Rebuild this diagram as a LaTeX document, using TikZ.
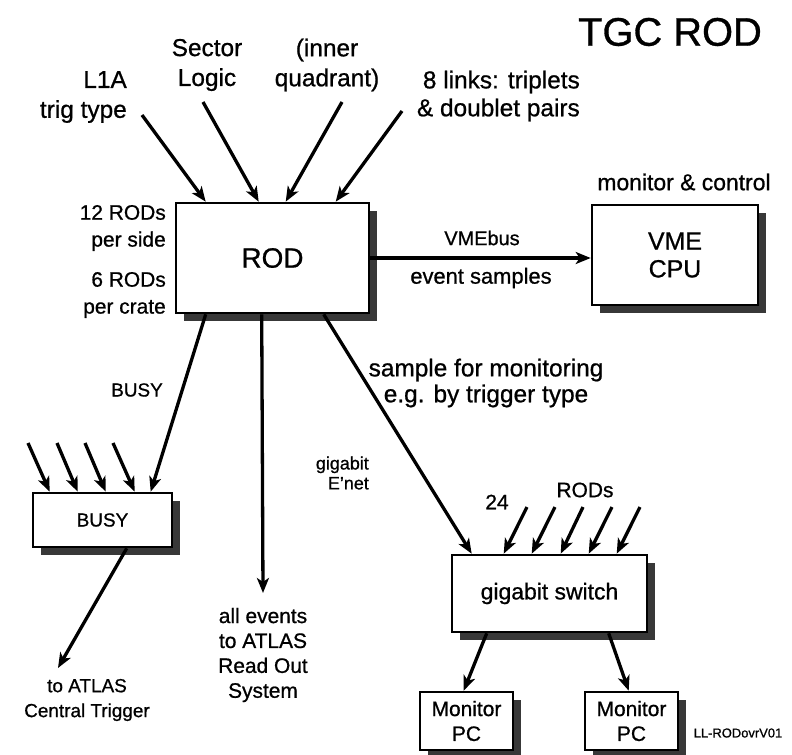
\documentclass[tikz,border=0pt]{standalone}
\usepackage{fontspec}
\setmainfont{Liberation Sans}[FakeBold=0.8]
\usetikzlibrary{arrows.meta,shadows,calc}
\newcommand\fz[2]{\fontsize{#1}{#2}\selectfont}
\begin{document}
\begin{tikzpicture}[x=1bp,y=-1bp,
  box/.style={draw, line width=2.6bp, fill=white, inner sep=0pt, align=center,
    general shadow={fill=black!78, shadow xshift=8bp, shadow yshift=-8bp}},
  arr/.style={line width=3.3bp, -{Stealth[length=15bp,width=12bp,inset=4bp]}},
  lab/.style={inner sep=0pt, align=center}]
\useasboundingbox (0,0) rectangle (792,755);

% boxes
\node[box, minimum width=193bp, minimum height=110bp, font=\fz{28}{30}] (rod) at (272.5,258) {ROD};
\node[box, minimum width=166bp, minimum height=100bp, font=\fz{25}{28}] (vme) at (675,255) {VME\\CPU};
\node[box, minimum width=139bp, minimum height=54bp, font=\fz{19}{22}] (busy) at (102.5,520) {BUSY};
\node[box, minimum width=195bp, minimum height=77bp, font=\fz{23}{26}] (sw) at (549.5,593.5) {gigabit switch};
\node[box, minimum width=93bp, minimum height=58bp, font=\fz{21}{25}] (pc1) at (466.5,721) {Monitor\\PC};
\node[box, minimum width=93bp, minimum height=58bp, font=\fz{21}{25}] (pc2) at (631.5,721) {Monitor\\PC};

% labels
\node[lab, font=\fz{40}{44}] (title) at (670,32) {TGC ROD};
\node[lab, align=right, anchor=east, font=\fz{24.5}{30}] (l1a) at (127,97) {L1A\\trig type};
\node[lab, font=\fz{24.5}{30}] (sect) at (207,65) {Sector\\Logic};
\node[lab, font=\fz{24.5}{30}] (inner) at (327,65) {(inner\\quadrant)};
\node[lab, align=right, anchor=east, font=\fz{24.5}{28}] (links) at (580,96) {8 links: triplets\\\& doublet pairs};
\node[lab, font=\fz{23}{26}] (monc) at (684,182) {monitor \& control};
\node[lab, font=\fz{20}{24}] (vmebus) at (482,238) {VMEbus};
\node[lab, font=\fz{22}{24}] (evs) at (481,278) {event samples};
\node[lab, align=right, anchor=east, font=\fz{21}{27}] (side) at (166,228) {12 RODs\\per side};
\node[lab, align=right, anchor=east, font=\fz{21}{27}] (crate) at (166,295) {6 RODs\\per crate};
\node[lab, font=\fz{19}{22}] (busyl) at (137,390) {BUSY};
\node[lab, font=\fz{24.5}{26}] (samp) at (486,383) {sample for monitoring\\e.g. by trigger type};
\node[lab, align=right, anchor=east, font=\fz{18}{20}] (gige) at (369,473) {gigabit\\E'net};
\node[lab, font=\fz{21}{24}] (n24) at (497,502) {24};
\node[lab, font=\fz{21}{24}] (rods) at (585,490) {RODs};
\node[lab, font=\fz{21}{25}] (allev) at (263,655) {all events\\to ATLAS\\Read Out\\System};
\node[lab, font=\fz{19}{25}] (ctrig) at (87,700) {to ATLAS\\Central Trigger};
\node[lab, font=\fz{13}{15}] (ll) at (738,733) {LL-RODovrV01};

% inputs to ROD
\coordinate (s1) at (142,115);
\coordinate (s2) at (203,102);
\coordinate (s3) at (342,102);
\coordinate (s4) at (402,111);
\draw[arr] (s1) -- ($(rod.north west)+(31,0)$);
\draw[arr] (s2) -- ($(rod.north west)+(84,0)$);
\draw[arr] (s3) -- ($(rod.north west)+(111,0)$);
\draw[arr] (s4) -- ($(rod.north west)+(161,0)$);

% ROD outputs
\draw[arr] (rod.east) -- (rod.east -| vme.west);
\draw[arr] ($(rod.south west)+(31,0)$) -- ($(busy.north west)+(119,0)$);
\coordinate (ros) at (263,593);
\draw[arr] ($(rod.south west)+(87,0)$) -- (ros);
\draw[arr] ($(rod.south west)+(149,0)$) -- ($(sw.north west)+(21,0)$);

% BUSY inputs
\foreach \sx/\ex [count=\i] in {28/18,57/46,85/74,113/103}{
  \coordinate (b\i) at (\sx,443);
  \draw[arr] (b\i) -- ($(busy.north west)+(\ex,0)$);
}
\coordinate (ctr) at (58,668);
\draw[arr] ($(busy.south west)+(95,0)$) -- (ctr);

% switch inputs
\foreach \sx/\ex [count=\i] in {527/53,555/81,583/110,612/138,640/166}{
  \coordinate (w\i) at (\sx,507);
  \draw[arr] (w\i) -- ($(sw.north west)+(\ex,0)$);
}
\draw[arr] ($(sw.south west)+(36,0)$) -- ($(pc1.north west)+(45,0)$);
\draw[arr] ($(sw.south west)+(158,0)$) -- ($(pc2.north west)+(45,0)$);
\end{tikzpicture}
\end{document}
